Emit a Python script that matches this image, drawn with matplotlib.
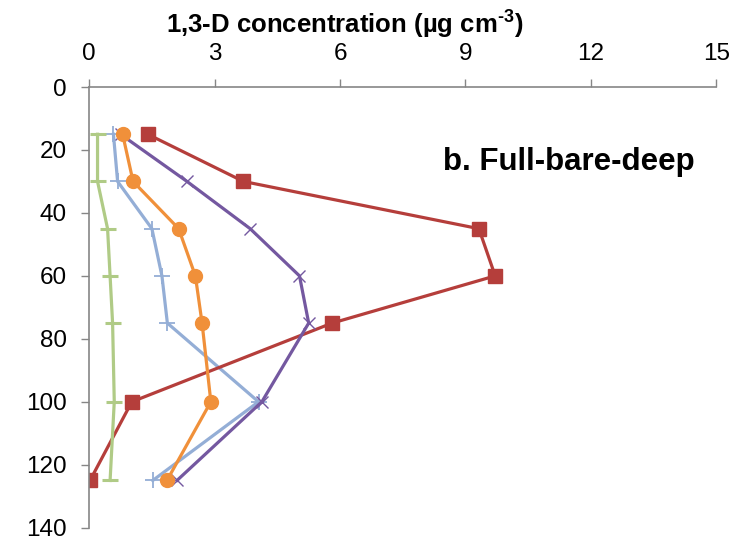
import numpy as np
import matplotlib.pyplot as plt

plt.rcParams['font.family'] = ['Liberation Sans', 'DejaVu Sans']
plt.rcParams['mathtext.fontset'] = 'custom'
plt.rcParams['mathtext.rm'] = 'Liberation Sans:bold'

# soil depth (cm) and 1,3-D concentration per profile
depth = [15, 30, 45, 60, 75, 100, 125]
conc_blue = [0.58, 0.68, 1.5, 1.74, 1.87, 4.05, 1.52]
conc_red = [1.4, 3.69, 9.32, 9.71, 5.81, 1.02, 0.02]
conc_green = [0.2, 0.2, 0.44, 0.5, 0.56, 0.6, 0.5]
conc_purple = [0.75, 2.34, 3.85, 5.03, 5.25, 4.13, 2.1]
conc_orange = [0.8, 1.05, 2.14, 2.54, 2.7, 2.91, 1.86]

xticks = [0, 3, 6, 9, 12, 15]
yticks = [0, 20, 40, 60, 80, 100, 120, 140]

fig = plt.figure(figsize=(7.37, 5.44), dpi=100)
ax = fig.add_axes([0.121, 0.03, 0.851, 0.81])

lw = 2.3
ax.plot(conc_blue, depth, color='#94AED6', lw=lw, marker='+', ms=11, mew=1.3)
ax.plot(conc_red, depth, color='#B53E3B', lw=lw, marker='s', ms=10)
ax.plot(conc_green, depth, color='#B0CB86', lw=lw, marker='_', ms=12, mew=2.2)
ax.plot(conc_purple, depth, color='#7458A0', lw=lw, marker='x', ms=9, mew=1.0)
ax.plot(conc_orange, depth, color='#F0903A', lw=lw, marker='o', ms=10)

ax.set_xlim(0, 15)
ax.set_ylim(140, 0)
ax.set_xticks(xticks)
ax.set_yticks(yticks)
ax.xaxis.tick_top()
ax.xaxis.set_label_position('top')
ax.set_xlabel('1,3-D concentration (\u00b5g cm$^{\\text{-3}}$)',
              fontsize=18.5, fontweight='bold')
ax.xaxis.set_label_coords(0.407, 1.145)
ax.xaxis.label.set_verticalalignment('center')

for side in ['right', 'bottom']:
    ax.spines[side].set_visible(False)
for side in ['left', 'top']:
    ax.spines[side].set_color('#868686')
    ax.spines[side].set_linewidth(1.2)
ax.tick_params(axis='both', colors='#868686', labelcolor='black',
               labelsize=17.5, length=6, width=1.0, direction='out', pad=10)

ax.text(0.965, 0.829, 'b. Full-bare-deep', transform=ax.transAxes,
        ha='right', va='center', fontsize=22.5, fontweight='bold')

fig.savefig('out.png', dpi=100)
